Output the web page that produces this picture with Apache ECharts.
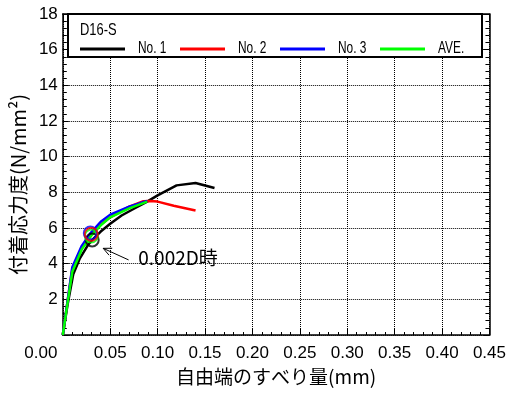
<!DOCTYPE html>
<html>
<head>
<meta charset="utf-8">
<script src="https://cdn.jsdelivr.net/npm/echarts@6/dist/echarts.min.js"></script>
<style>
  html, body { margin: 0; padding: 0; background: #fff; }
  #chart { width: 509px; height: 394px; }
</style>
</head>
<body>
<div id="chart"></div>
<script>
// Bond stress vs. free-end slip, specimen D16-S
const specimen = 'D16-S';
const seriesNames = ['No. 1', 'No. 2', 'No. 3', 'AVE.'];
const seriesColors = ['#000000', '#ff0000', '#0000ff', '#00ff00'];

// [slip (mm), bond stress (N/mm2)]
const no1 = [[0, 0], [0.005, 1.7], [0.011, 3.4], [0.018, 4.3], [0.026, 5.0], [0.031, 5.33], [0.04, 5.8], [0.05, 6.24],
  [0.062, 6.7], [0.075, 7.08], [0.088, 7.45], [0.1, 7.83], [0.12, 8.39], [0.14, 8.52], [0.16, 8.24]];
const no2 = [[0, 0], [0.005, 1.9], [0.01, 3.7], [0.02, 4.9], [0.03, 5.65], [0.04, 6.2], [0.05, 6.6], [0.07, 7.2],
  [0.085, 7.5], [0.092, 7.52], [0.1, 7.48], [0.117, 7.25], [0.14, 6.98]];
const no3 = [[0, 0], [0.005, 1.9], [0.01, 3.8], [0.02, 5.0], [0.029, 5.7], [0.04, 6.35], [0.05, 6.75], [0.07, 7.2],
  [0.089, 7.52]];
const ave = [[0, 0], [0.005, 1.8], [0.01, 3.55], [0.02, 4.8], [0.03, 5.57], [0.04, 6.15], [0.05, 6.6], [0.07, 7.1],
  [0.089, 7.48]];
const curves = [no1, no2, no3, ave];

// values at slip = 0.002D
const at002D = [[0.031, 5.33], [0.030, 5.65], [0.029, 5.72], [0.030, 5.55]];

// axis tick labels
const xTicks = ['0.00', '0.05', '0.10', '0.15', '0.20', '0.25', '0.30', '0.35', '0.40', '0.45'];
const yTicks = ['', '2', '4', '6', '8', '10', '12', '14', '16', '18'];
const xName = '自由端のすべり量(mm)';
const yName = '付着応力度(N/mm²)';

// callout
const noteText = '0.002D時';
const noteTail = [0.0694, 4.21];
const noteTip = [0.0426, 4.86];
const noteAt = [0.0796, 4.33];

const NUM_FONT = '"Liberation Sans", Arial, sans-serif';
const JP_FONT = '"Noto Sans CJK JP", sans-serif';

const chart = echarts.init(document.getElementById('chart'), null, { renderer: 'canvas' });

const gridLine = { show: true, lineStyle: { color: '#000', width: 1, type: [1, 1] } };
const frameLine = { show: true, onZero: false, lineStyle: { color: '#000', width: 1.5 } };

function xAxisOf(pos, withLabels) {
  return {
    type: 'value', position: pos, min: 0, max: 0.45, interval: 0.05,
    axisLine: frameLine,
    axisTick: { show: true, inside: true, length: 6, lineStyle: { color: '#000' } },
    minorTick: { show: true, splitNumber: 5, length: 3, lineStyle: { color: '#000' } },
    splitLine: withLabels ? gridLine : { show: false },
    axisLabel: withLabels ? {
      show: true, margin: 10, color: '#000', fontSize: 17, fontFamily: NUM_FONT,
      formatter: v => {
        const t = xTicks[Math.round(v / 0.05)];
        return v === 0 ? '{z|' + t + '}' : t;
      },
      rich: { z: { fontSize: 17, fontFamily: NUM_FONT, color: '#000', padding: [0, 44, 0, 0] } }
    } : { show: false },
    name: withLabels ? xName : '',
    nameLocation: 'middle', nameGap: 31,
    nameTextStyle: { color: '#000', fontSize: 19, fontFamily: JP_FONT }
  };
}

function yAxisOf(pos, withLabels) {
  return {
    type: 'value', position: pos, min: 0, max: 18, interval: 2,
    axisLine: frameLine,
    axisTick: { show: true, inside: true, length: 6, lineStyle: { color: '#000' } },
    minorTick: { show: true, splitNumber: 5, length: 4, lineStyle: { color: '#000' } },
    splitLine: withLabels ? gridLine : { show: false },
    axisLabel: withLabels ? {
      show: true, margin: 5, color: '#000', fontSize: 17, fontFamily: NUM_FONT,
      formatter: v => yTicks[Math.round(v / 2)]
    } : { show: false },
    name: withLabels ? yName : '',
    nameLocation: 'middle', nameGap: 30, nameRotate: 90,
    nameTextStyle: { color: '#000', fontSize: 20, fontFamily: JP_FONT, padding: [0, 20, 0, 0] }
  };
}

const lineSeries = curves.map((d, i) => ({
  name: seriesNames[i], type: 'line', data: d, xAxisIndex: 0, yAxisIndex: 0,
  showSymbol: false, smooth: false, silent: true, z: 3 + i,
  lineStyle: { color: seriesColors[i], width: 2.5, join: 'round' },
  itemStyle: { color: seriesColors[i] }
}));

const markerSeries = at002D.map((p, i) => ({
  name: seriesNames[i] + ' 0.002D', type: 'scatter', data: [p], xAxisIndex: 0, yAxisIndex: 0,
  symbol: 'circle', symbolSize: 13, silent: true, z: 8 + (i === 0 ? 0 : 4 - i),
  itemStyle: { color: 'rgba(0,0,0,0)', borderColor: seriesColors[i], borderWidth: 2 }
}));

chart.setOption({
  animation: false,
  backgroundColor: '#fff',
  grid: { left: 62, right: 18, top: 14, bottom: 59, containLabel: false },
  xAxis: [xAxisOf('bottom', true), xAxisOf('top', false)],
  yAxis: [yAxisOf('left', true), yAxisOf('right', false)],
  series: lineSeries.concat(markerSeries)
});

// legend frame with specimen title and line keys, plus the 0.002D callout
function drawOverlay() {
  const tip = chart.convertToPixel({ xAxisIndex: 0, yAxisIndex: 0 }, noteTip);
  const tail = chart.convertToPixel({ xAxisIndex: 0, yAxisIndex: 0 }, noteTail);
  const at = chart.convertToPixel({ xAxisIndex: 0, yAxisIndex: 0 }, noteAt);
  const dx = tip[0] - tail[0], dy = tip[1] - tail[1];
  const len = Math.hypot(dx, dy), ux = dx / len, uy = dy / len;
  const head = 9, ang = 25 * Math.PI / 180;
  const wing = s => [
    tip[0] - head * (ux * Math.cos(ang) - s * uy * Math.sin(ang)),
    tip[1] - head * (uy * Math.cos(ang) + s * ux * Math.sin(ang))
  ];
  const keyItems = [];
  seriesNames.forEach((name, i) => {
    const x0 = 80 + 100 * i;
    keyItems.push({ type: 'line', z: 11, shape: { x1: x0, y1: 49, x2: x0 + 45, y2: 49 },
      style: { stroke: seriesColors[i], lineWidth: 3 } });
    keyItems.push({ type: 'text', z: 11, x: x0 + 58, y: 48, scaleX: 0.7,
      style: { text: name, fill: '#000', font: '17px ' + NUM_FONT, textVerticalAlign: 'middle' } });
  });
  chart.setOption({
    graphic: [
      { type: 'rect', z: 10, shape: { x: 68, y: 14, width: 414, height: 43 },
        style: { fill: '#fff', stroke: '#000', lineWidth: 2 } },
      { type: 'text', z: 11, x: 80, y: 30, scaleX: 0.76,
        style: { text: specimen, fill: '#000', font: '17px ' + NUM_FONT, textVerticalAlign: 'middle' } }
    ].concat(keyItems).concat([
      { type: 'polyline', z: 12, shape: { points: [tail, tip] },
        style: { stroke: '#000', lineWidth: 1, fill: null } },
      { type: 'polyline', z: 12, shape: { points: [wing(1), tip, wing(-1)] },
        style: { stroke: '#000', lineWidth: 1, fill: null } },
      { type: 'text', z: 12, x: at[0], y: at[1],
        style: { text: noteText, fill: '#000', font: '19px ' + JP_FONT, textVerticalAlign: 'middle' } }
    ])
  });
}
drawOverlay();
</script>
</body>
</html>
